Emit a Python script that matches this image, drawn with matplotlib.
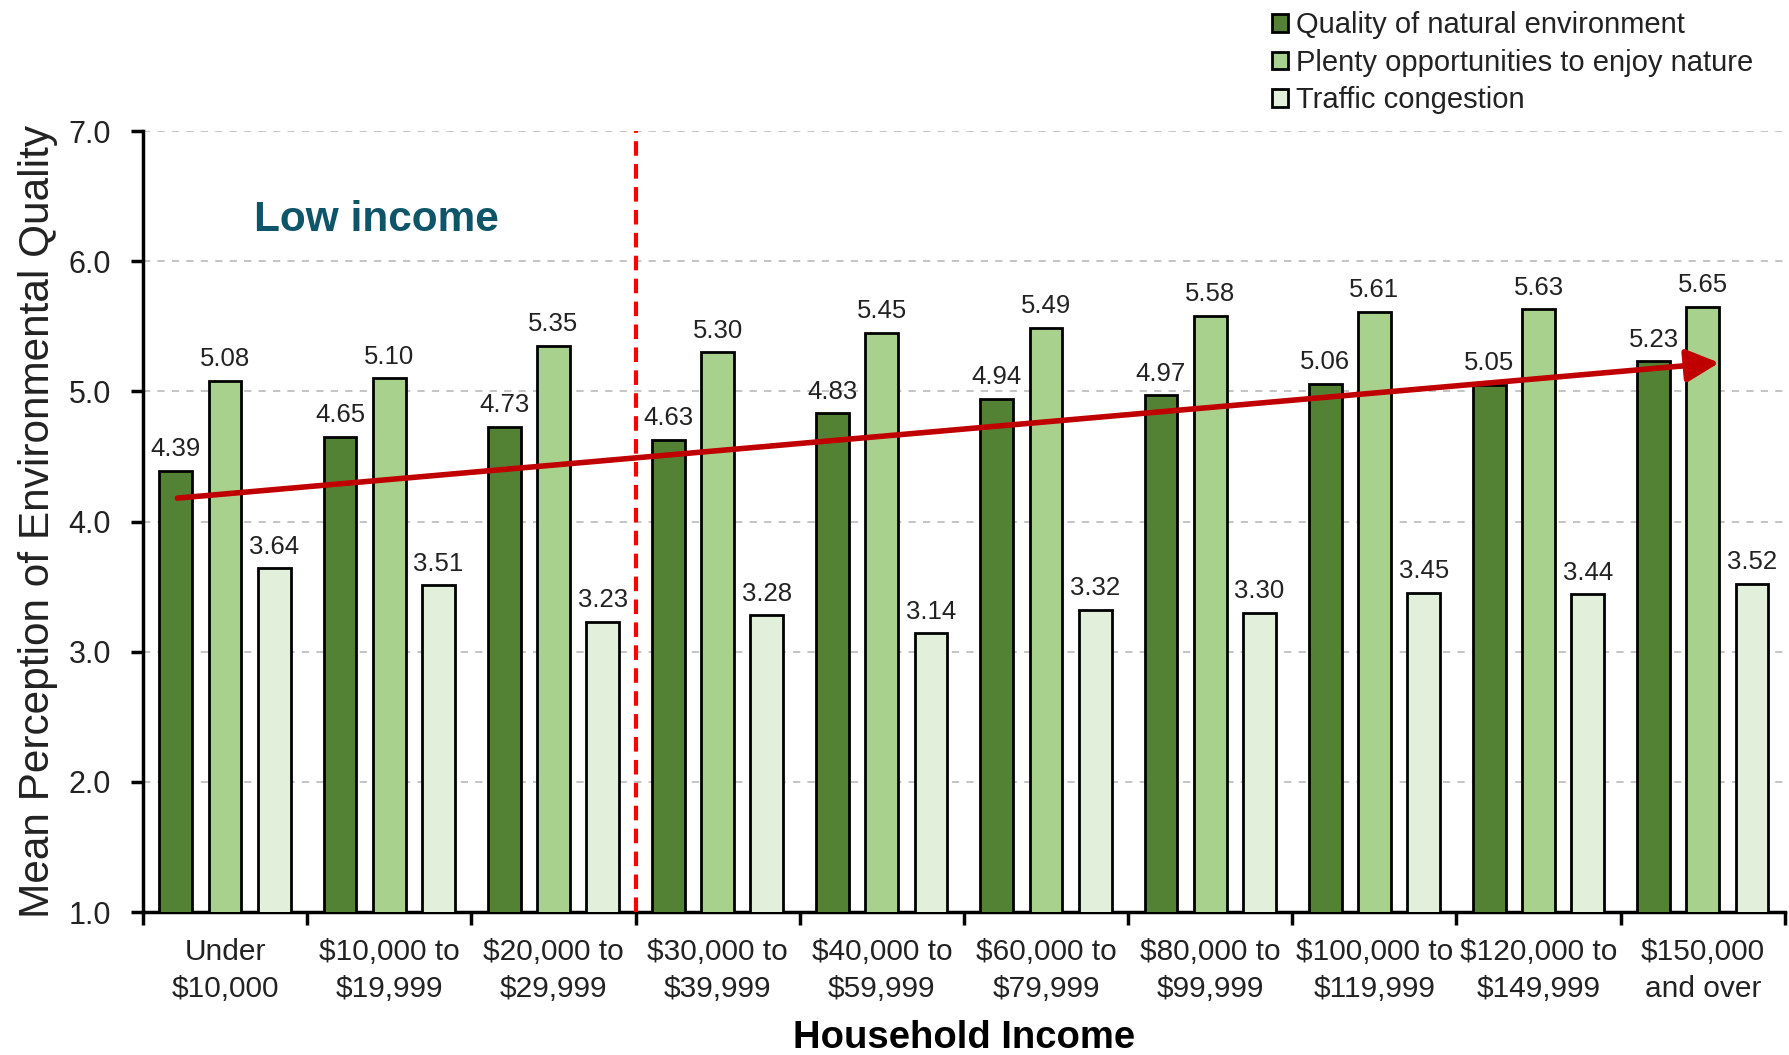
import numpy as np
import matplotlib.pyplot as plt

plt.rcParams['font.family'] = ['Liberation Sans', 'DejaVu Sans']

categories = ['Under\n$10,000', '$10,000 to\n$19,999', '$20,000 to\n$29,999',
              '$30,000 to\n$39,999', '$40,000 to\n$59,999', '$60,000 to\n$79,999',
              '$80,000 to\n$99,999', '$100,000 to\n$119,999', '$120,000 to\n$149,999',
              '$150,000\nand over']
quality = [4.39, 4.65, 4.73, 4.63, 4.83, 4.94, 4.97, 5.06, 5.05, 5.23]
plenty = [5.08, 5.10, 5.35, 5.30, 5.45, 5.49, 5.58, 5.61, 5.63, 5.65]
traffic = [3.64, 3.51, 3.23, 3.28, 3.14, 3.32, 3.30, 3.45, 3.44, 3.52]
series_names = ['Quality of natural environment',
                'Plenty opportunities to enjoy nature',
                'Traffic congestion']
colors = ['#548235', '#A9D18E', '#E2EFDA']

# trend arrow (start, end) in data units
arrow_start = (-0.29, 4.18)
arrow_end = (9.10, 5.22)

fig = plt.figure(figsize=(17.89, 10.55), dpi=100)
ax = fig.add_axes([0.0799, 0.1355, 0.9178, 0.7403])

x = np.arange(len(categories))
width = 0.2
bars = []
for i, (vals, c, name) in enumerate(zip([quality, plenty, traffic], colors, series_names)):
    b = ax.bar(x + (i - 1) * 0.3, vals, width, bottom=0, color=c, edgecolor='black',
               linewidth=2, label=name, zorder=3)
    bars.append(b)
    for xi, v in zip(x + (i - 1) * 0.3, vals):
        ax.annotate(f'{v:.2f}', (xi, v), xytext=(0, 7), textcoords='offset points',
                    ha='center', va='bottom', fontsize=18.5, color='#222222', zorder=5)

ax.set_xlim(-0.5, 9.5)
ax.set_ylim(1.0, 7.0)
ax.set_yticks(np.arange(1, 7.01, 1))
ax.set_yticklabels([f'{v:.1f}' for v in np.arange(1, 7.01, 1)])
ax.yaxis.grid(True, color='#BFBFBF', linestyle=(0, (4, 4)), linewidth=1.3, zorder=0)
ax.set_axisbelow(True)

ax.set_xticks(x)
ax.set_xticklabels(categories, fontsize=21.5, linespacing=1.4, color='#222222')
ax.set_xticks(np.arange(-0.5, 9.6, 1), minor=True)
ax.tick_params(axis='x', which='major', length=0, pad=19)
ax.tick_params(axis='x', which='minor', length=9, width=2.5, direction='out')
ax.tick_params(axis='y', length=9, width=2.5, pad=14, labelsize=22, labelcolor='#222222')

for s in ['top', 'right']:
    ax.spines[s].set_visible(False)
for s in ['left', 'bottom']:
    ax.spines[s].set_linewidth(2.5)

ax.set_ylabel('Mean Perception of Environmental Quality', fontsize=30.5, color='#222222')
ax.yaxis.set_label_coords(-0.052, 0.5)
ax.set_xlabel('Household Income', fontsize=27.5, fontweight='bold')
ax.xaxis.set_label_coords(0.5, -0.138)

# low income divider
ax.plot([2.5, 2.5], [1.0, 7.0], color='#FF0000', linestyle=(0, (3.5, 2)), linewidth=3, zorder=4,
        clip_on=False)
ax.text(0.176, 6.32, 'Low income', fontsize=30.5, fontweight='bold', color='#0F5569',
        ha='left', va='center')

ax.annotate('', xy=arrow_end, xytext=arrow_start,
            arrowprops=dict(arrowstyle='-|>,head_length=1.0,head_width=0.5',
                            mutation_scale=20, lw=4, color='#C00000',
                            shrinkA=0, shrinkB=0), zorder=6)

fig.legend(handles=bars, labels=series_names, loc='upper left',
           bbox_to_anchor=(1254 / 1789, 1.006), frameon=False, fontsize=21,
           handlelength=0.55, handleheight=0.55, handletextpad=0.3,
           labelspacing=0.33, borderpad=0.1, labelcolor='#222222')

fig.savefig('out.png', dpi=100)
